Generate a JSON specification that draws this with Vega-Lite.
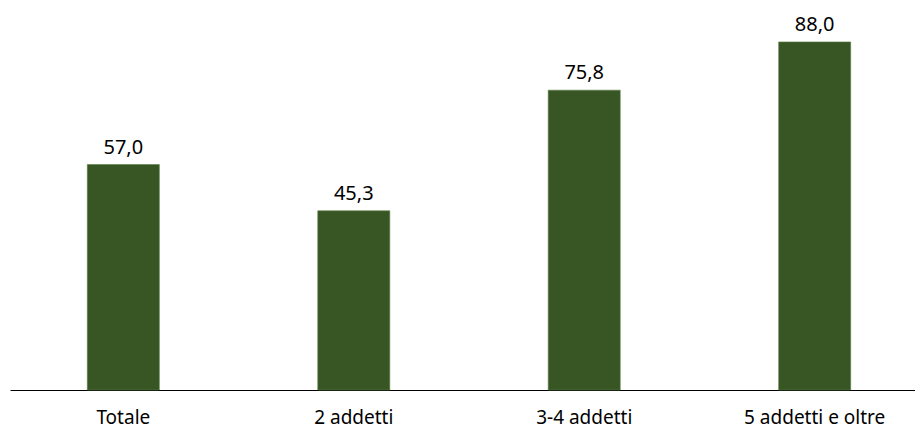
{
  "$schema": "https://vega.github.io/schema/vega-lite/v6.json",
  "width": 918,
  "height": 390,
  "autosize": "none",
  "padding": {"left": 10, "top": 0, "right": 0, "bottom": 39},
  "background": "white",
  "config": {
    "view": {"stroke": null},
    "font": "Noto Sans"
  },
  "data": {
    "values": [
      {"categoria": "Totale", "valore": 57.0},
      {"categoria": "2 addetti", "valore": 45.3},
      {"categoria": "3-4 addetti", "valore": 75.8},
      {"categoria": "5 addetti e oltre", "valore": 88.0}
    ]
  },
  "encoding": {
    "x": {
      "field": "categoria",
      "type": "nominal",
      "sort": null,
      "scale": {"paddingInner": 0.6875, "paddingOuter": 0.3355},
      "axis": {
        "title": null,
        "labelAngle": 0,
        "labelFontSize": 19,
        "labelColor": "#000000",
        "labelBaseline": "alphabetic",
        "labelPadding": 33,
        "ticks": false,
        "domainColor": "#000000",
        "domainWidth": 1
      }
    },
    "y": {
      "field": "valore",
      "type": "quantitative",
      "scale": {"domain": [0, 98.6], "nice": false},
      "axis": null
    }
  },
  "layer": [
    {
      "mark": {"type": "bar", "color": "#375623", "stroke": "#5a7a45", "strokeWidth": 0.6}
    },
    {
      "mark": {"type": "text", "baseline": "alphabetic", "dy": -11, "fontSize": 20, "color": "#000000"},
      "encoding": {
        "text": {"field": "valore", "type": "quantitative", "format": ".1f", "formatType": "number"}
      }
    }
  ],
  "usermeta": {"embedOptions": {"formatLocale": {"decimal": ",", "thousands": ".", "grouping": [3], "currency": ["€", ""]}}}
}
